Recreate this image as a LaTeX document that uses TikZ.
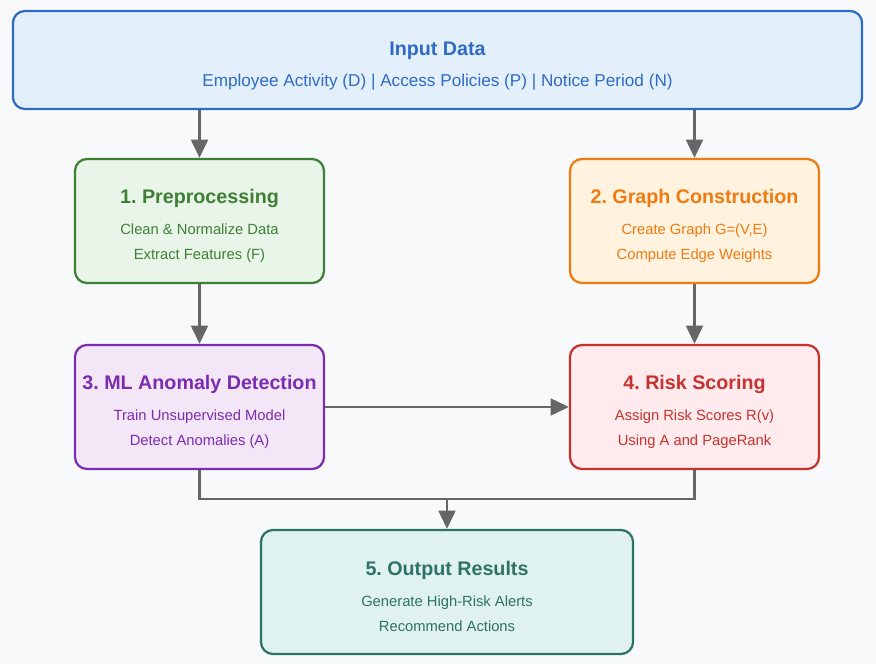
\documentclass[tikz,border=0pt]{standalone}
\usepackage{fontspec}
\setmainfont{Liberation Sans}
\usetikzlibrary{arrows.meta}
\frenchspacing

\definecolor{pagebg}{HTML}{F8F9FA}
\definecolor{inline}{HTML}{2F6BC4}
\definecolor{infill}{HTML}{E3F0FC}
\definecolor{preline}{HTML}{3E7F36}
\definecolor{prefill}{HTML}{E9F5E8}
\definecolor{graphline}{HTML}{EF7A10}
\definecolor{graphfill}{HTML}{FFF3E0}
\definecolor{mlline}{HTML}{7B2CB0}
\definecolor{mlfill}{HTML}{F3E6F6}
\definecolor{riskline}{HTML}{C6322D}
\definecolor{riskfill}{HTML}{FFEBEE}
\definecolor{outline}{HTML}{2E7265}
\definecolor{outfill}{HTML}{E0F2F0}
\definecolor{flow}{HTML}{666666}

\newcommand{\stagetitle}[1]{{\fontsize{14}{17.7}\selectfont\bfseries\rule{0pt}{16.6pt}#1}}

\begin{document}
\begin{tikzpicture}[x=0.025cm, y=-0.025cm, >={Triangle[length=13pt, width=12pt]},
    stage/.style={draw, rounded corners=0.3cm, line width=1.6pt, align=center,
        minimum width=6.225cm, minimum height=3.1cm,
        font=\fontsize{10.5}{17.7}\selectfont},
    flowline/.style={draw=flow, line width=1.8pt}]
                \fill[pagebg] (0,0) rectangle (876,664);
                \useasboundingbox (0,0) rectangle (876,664);

                % Nodes
                \node[stage, draw=inline, fill=infill, text=inline, minimum width=21.225cm, minimum height=2.45cm,
                    font=\fontsize{12.2}{17.7}\selectfont] at (437.5, 60) (input)
                    {\stagetitle{\rule{0pt}{18.2pt}Input Data}\\[4.5pt] Employee Activity (D) | Access Policies (P) | Notice Period (N)};
                \node[stage, draw=preline, fill=prefill, text=preline] at (199.5, 221) (prep)
                    {\stagetitle{1. Preprocessing}\\[4.3pt] Clean \& Normalize Data\\ Extract Features (F)};
                \node[stage, draw=graphline, fill=graphfill, text=graphline] at (694.5, 221) (graph)
                    {\stagetitle{2. Graph Construction}\\[4.3pt] Create Graph G=(V,E)\\ Compute Edge Weights};
                \node[stage, draw=mlline, fill=mlfill, text=mlline] at (199.5, 407) (ml)
                    {\stagetitle{3. ML Anomaly Detection}\\[4.3pt] Train Unsupervised Model\\ Detect Anomalies (A)};
                \node[stage, draw=riskline, fill=riskfill, text=riskline] at (694.5, 407) (risk)
                    {\stagetitle{4. Risk Scoring}\\[4.3pt] Assign Risk Scores R(v)\\ Using A and PageRank};
                \node[stage, draw=outline, fill=outfill, text=outline, minimum width=9.3cm] at (447, 592) (out)
                    {\stagetitle{5. Output Results}\\[4.3pt] Generate High-Risk Alerts\\ Recommend Actions};
                \coordinate (join) at (447, 499);

                % Edges
                \draw[flowline, ->] (prep.north |- input.south) -- (prep.north);
                \draw[flowline, ->] (graph.north |- input.south) -- (graph.north);
                \draw[flowline, ->] (prep) -- (ml);
                \draw[flowline, ->] (graph) -- (risk);
                \draw[flowline, ->] (ml) -- (risk);
                \draw[flowline] (ml.south) |- (join) -| (risk.south);
                \draw[flowline, ->] (join) -- (out.north);
            \end{tikzpicture}
\end{document}
